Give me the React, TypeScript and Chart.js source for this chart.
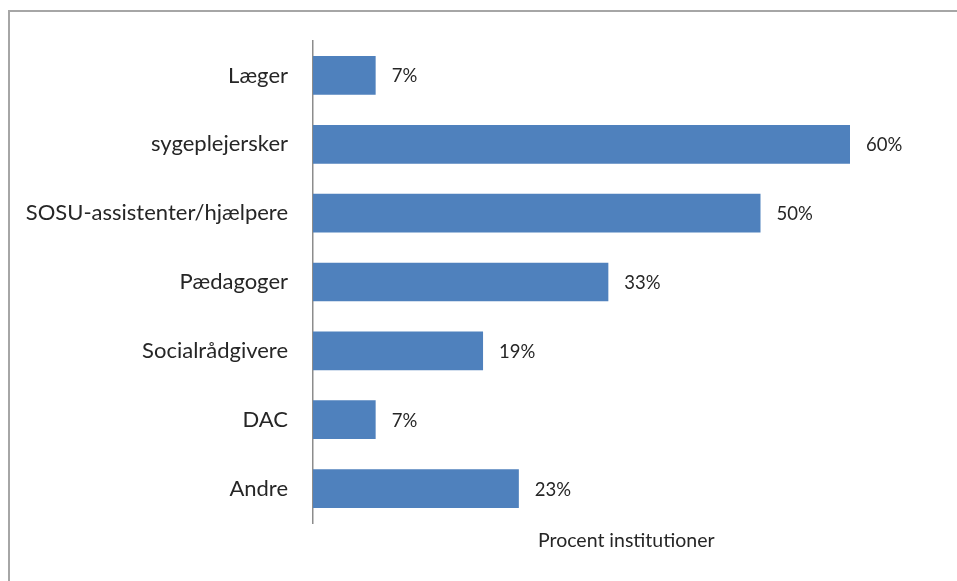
import React, { useEffect, useRef } from "react";
import { Chart, registerables } from "chart.js";

Chart.register(...registerables);

const categories = [
  "Læger",
  "sygeplejersker",
  "SOSU-assistenter/hjælpere",
  "Pædagoger",
  "Socialrådgivere",
  "DAC",
  "Andre",
];
const values = [7, 60, 50, 33, 19, 7, 23];
const xTitle = "Procent institutioner";
const xMax = 70;

const FONT = "Lato, 'Open Sans', sans-serif";
const TEXT = "#262626";
const BAR = "#4F81BD";

const dataLabels = {
  id: "dataLabels",
  afterDatasetsDraw(chart: any) {
    const ctx = chart.ctx;
    const meta = chart.getDatasetMeta(0);
    ctx.save();
    ctx.font = `18.5px ${FONT}`;
    ctx.fillStyle = TEXT;
    ctx.textAlign = "left";
    ctx.textBaseline = "middle";
    meta.data.forEach((el: any, i: number) => {
      ctx.fillText(`${values[i]}%`, el.x + 16, el.y + 1);
    });
    ctx.restore();
  },
};

export default function App() {
  const ref = useRef<HTMLCanvasElement | null>(null);
  useEffect(() => {
    if (!ref.current) return;
    const chart = new Chart(ref.current, {
      type: "bar",
      data: {
        labels: categories,
        datasets: [
          {
            data: values,
            backgroundColor: BAR,
            borderWidth: 0,
            categoryPercentage: 1,
            barPercentage: 0.562,
          },
        ],
      },
      options: {
        indexAxis: "y",
        animation: false,
        responsive: false,
        maintainAspectRatio: false,
        layout: { padding: { top: 41, right: 17.5, bottom: 0, left: 0 } },
        plugins: {
          legend: { display: false },
          tooltip: { enabled: false },
        },
        scales: {
          x: {
            min: 0,
            max: xMax,
            grid: { display: false, drawTicks: false },
            border: { display: false },
            ticks: { display: false },
            title: {
              display: true,
              text: xTitle,
              color: TEXT,
              font: { family: FONT, size: 19.5 },
              padding: { top: 0, bottom: 29 },
            },
            afterFit: (scale: any) => {
              scale.height = 58;
            },
          },
          y: {
            grid: { display: false, drawTicks: false },
            border: { display: true, color: "#8c8c8c", width: 1.5 },
            ticks: {
              color: TEXT,
              font: { family: FONT, size: 22 },
              padding: 25,
            },
            afterFit: (scale: any) => {
              scale.width = 313;
            },
          },
        },
      },
      plugins: [dataLabels],
    });
    return () => chart.destroy();
  }, []);

  return (
    <div style={{ position: "absolute", left: 0, top: 0, width: 957, height: 581, background: "#fff", overflow: "hidden" }}>
      <div style={{ position: "absolute", left: 8, top: 10, width: 949, height: 2, background: "#a6a6a6" }} />
      <div style={{ position: "absolute", left: 8, top: 10, width: 2, height: 571, background: "#a6a6a6" }} />
      <canvas ref={ref} width={957} height={581} style={{ position: "absolute", left: 0, top: 0, width: 957, height: 581 }} />
    </div>
  );
}
